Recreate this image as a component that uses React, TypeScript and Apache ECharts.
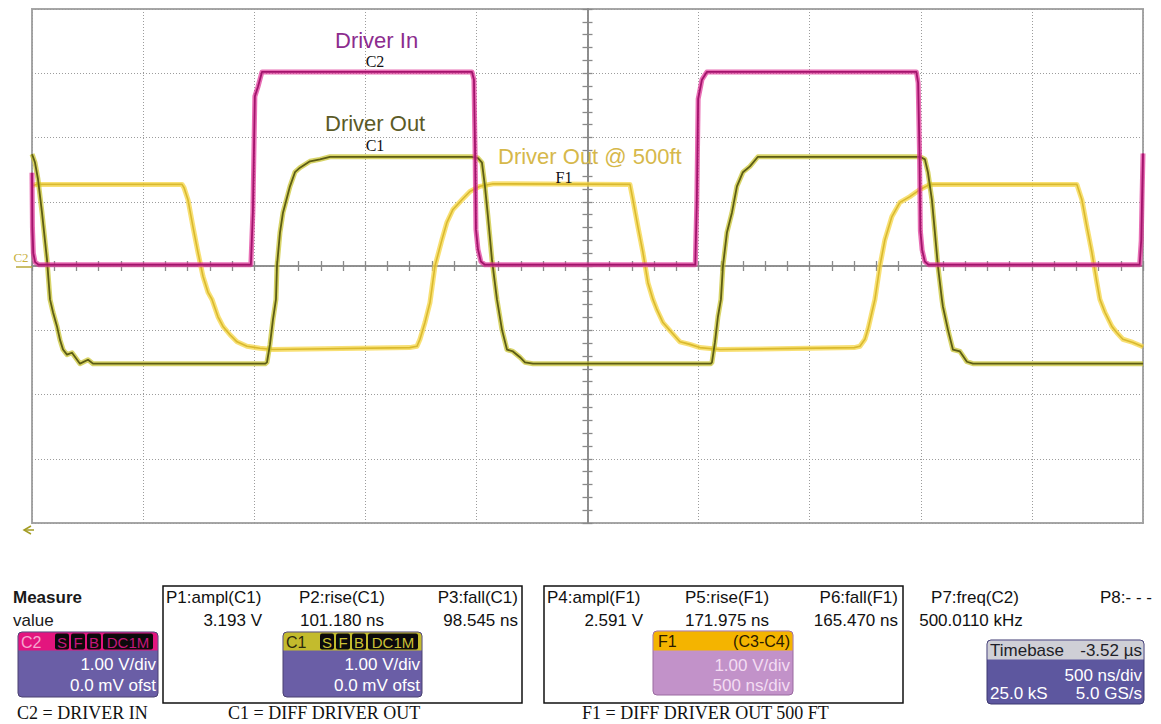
import React, { useEffect, useRef } from "react";
import * as echarts from "echarts";

// time in ns from the left edge of the screen (10 div x 500 ns), volts at 1 V/div
const SCREEN_NS = 5000;
const voltTicks = [-4, -3, -2, -1, 0, 1, 2, 3, 4];

// C2 = Driver In
const driverIn: [number, number][] = [
  [0, 1.45], [2, 0.6], [6, 0.2], [14, 0.06], [30, 0.02],
  [985, 0.02], [994, 0.83], [1003, 2.64], [1017, 2.79], [1035, 3.02],
  [1980, 3.02], [1989, 2.9], [1994, 1.81], [1998, 0.57], [2007, 0.26], [2020, 0.07], [2038, 0.02],
  [2985, 0.02], [2992, 1.0], [2998, 2.6], [3015, 2.9], [3037, 3.02],
  [3980, 3.02], [3988, 2.85], [3994, 1.8], [3998, 0.55], [4006, 0.25], [4018, 0.07], [4035, 0.02],
  [4985, 0.02], [4992, 0.4], [4996, 1.1], [5000, 1.75],
];

// C1 = Driver Out
const driverOut: [number, number][] = [
  [0, 1.74], [4.5, 1.7], [13.5, 1.61], [27, 1.35], [45, 0.83], [67.5, 0.1], [81, -0.52], [94.5, -0.72],
  [112.5, -0.94], [126, -1.15], [139.5, -1.3], [157.5, -1.38], [180, -1.35], [216, -1.52], [252, -1.46], [274.5, -1.52],
  [1050, -1.52], [1057.5, -1.5], [1071, -1.22], [1084.5, -0.83], [1098, -0.52], [1102.5, 0.0], [1116, 0.52],
  [1129.5, 0.83], [1161, 1.24], [1183.5, 1.46], [1206, 1.53], [1251, 1.63], [1296, 1.66], [1341, 1.7],
  [1980, 1.7], [2007, 1.68], [2025, 1.61], [2038.5, 1.24], [2052, 0.77], [2070, 0.1], [2092.5, -0.52], [2115, -0.99],
  [2137.5, -1.3], [2164.5, -1.33], [2196, -1.42], [2218.5, -1.5], [2254.5, -1.52],
  [3055, -1.52], [3060, -1.5], [3073.5, -1.19], [3087, -0.79], [3100.5, -0.52], [3109.5, 0.0], [3127.5, 0.52],
  [3150, 0.83], [3172.5, 1.24], [3199.5, 1.46], [3231, 1.55], [3267, 1.7],
  [3996, 1.7], [4018.5, 1.66], [4032, 1.46], [4050, 1.03], [4063.5, 0.52], [4077, 0.0], [4095, -0.52], [4099.5, -0.63],
  [4122, -0.99], [4144.5, -1.3], [4176, -1.33], [4207.5, -1.49], [4234.5, -1.52], [5000, -1.52],
];

// F1 = Driver Out @ 500ft
const driverOut500: [number, number][] = [
  [0, 1.25], [20, 1.27], [675, 1.27], [684, 1.22], [702, 1.03], [724.5, 0.61], [747, 0.21], [769.5, -0.16],
  [792, -0.41], [810, -0.52], [837, -0.79], [859.5, -0.94], [891, -1.07], [922.5, -1.18], [967.5, -1.25],
  [1026, -1.28], [1084.5, -1.3], [1700, -1.27],
  [1732.5, -1.25], [1746, -1.14], [1768.5, -0.88], [1791, -0.57], [1813.5, 0.0], [1845, 0.41], [1867.5, 0.68],
  [1894.5, 0.88], [1935, 1.03], [1971, 1.16], [2016, 1.24], [2074.5, 1.28], [2691, 1.27],
  [2704.5, 1.03], [2727, 0.61], [2749.5, 0.21], [2772, -0.26], [2794.5, -0.52], [2812.5, -0.68], [2839.5, -0.88],
  [2880, -1.04], [2916, -1.18], [2961, -1.22], [3006, -1.27], [3096, -1.3], [3700, -1.27],
  [3726, -1.25], [3748.5, -1.14], [3762, -0.99], [3780, -0.72], [3793.5, -0.52], [3816, 0.0], [3838.5, 0.41],
  [3870, 0.77], [3906, 0.99], [3951, 1.08], [3996, 1.19], [4041, 1.27], [4702.5, 1.27],
  [4725, 1.03], [4747.5, 0.61], [4770, 0.21], [4792.5, -0.26], [4806, -0.52], [4828.5, -0.72], [4860, -0.94],
  [4882.5, -1.04], [4909.5, -1.14], [4954.5, -1.19], [4995, -1.25], [5000, -1.26],
];

const measureNames = ["P1:ampl(C1)", "P2:rise(C1)", "P3:fall(C1)", "P4:ampl(F1)", "P5:rise(F1)", "P6:fall(F1)", "P7:freq(C2)", "P8:- - -"];
const measureValues = ["3.193 V", "101.180 ns", "98.545 ns", "2.591 V", "171.975 ns", "165.470 ns", "500.0110 kHz", ""];

const SANS = '"Liberation Sans", Arial, sans-serif';
const SERIF = '"Liberation Serif", "Times New Roman", serif';

function txt(text: string, x: number, y: number, fill: string, size: number, align = "left", family = SANS, weight = "normal", z = 20) {
  return {
    type: "text",
    x,
    y,
    z,
    silent: true,
    style: { text, fill, font: `${weight} ${size}px ${family}`, align, verticalAlign: "middle" },
  };
}
function rect(x: number, y: number, w: number, h: number, fill: string, r: any = 0, stroke?: string, lw = 1, z = 10) {
  return {
    type: "rect",
    z,
    silent: true,
    shape: { x, y, width: w, height: h, r },
    style: stroke ? { fill, stroke, lineWidth: lw } : { fill },
  };
}

function badges(x0: number, y: number, items: [string, number][], textColor: string) {
  const out: any[] = [];
  let x = x0;
  for (const [t, w] of items) {
    out.push(rect(x, y, w, 16, "#0c0a0c", 2, undefined, 1, 12));
    out.push(txt(t, x + w / 2, y + 8.5, textColor, 15, "center", SANS, "normal", 13));
    x += w + 2;
  }
  return out;
}

function channelBox(x: number, y: number, w: number, headFill: string, label: string, labelColor: string, badgeColor: string, line1: string, line2: string) {
  const h = 65;
  return [
    rect(x, y, w, h, "#6a5ea6", 4, "#4a4070", 1, 10),
    rect(x + 0.5, y + 0.5, w - 1, 18, headFill, [4, 4, 0, 0], undefined, 1, 11),
    txt(label, x + 3, y + 10, labelColor, 16, "left", SANS, "normal", 13),
    ...badges(x + 37, y + 1.5, [["S", 14], ["F", 14], ["B", 14], ["DC1M", 50]], badgeColor),
    txt(line1, x + w - 2, y + 32, "#ffffff", 17, "right"),
    txt(line2, x + w - 2, y + 53, "#ffffff", 17, "right"),
  ];
}

export default function App() {
  const ref = useRef<HTMLDivElement>(null);
  useEffect(() => {
    if (!ref.current) return;
    const chart = echarts.init(ref.current, null, { renderer: "svg" });
    const half = SCREEN_NS / 2;
    const shift = (d: [number, number][]) => d.map(([t, v]) => [t - half, v]);
    const axisColor = "#8a8a8a";
    const tickStyle = { color: "#8a8a8a", width: 1.3 };
    const xBase = {
      type: "value",
      min: -half,
      max: half,
      interval: 500,
      axisLine: { show: true, onZero: true, lineStyle: { color: axisColor, width: 1.6 } },
      axisTick: { show: true, length: 5, lineStyle: tickStyle },
      minorTick: { show: true, splitNumber: 5, length: 5, lineStyle: tickStyle },
      axisLabel: { show: false },
      minorSplitLine: { show: false },
    };
    const yBase = {
      type: "value",
      min: voltTicks[0],
      max: voltTicks[voltTicks.length - 1],
      interval: 1,
      axisLine: { show: true, onZero: true, lineStyle: { color: axisColor, width: 1.6 } },
      axisTick: { show: true, length: 5, lineStyle: tickStyle },
      minorTick: { show: true, splitNumber: 5, length: 5, lineStyle: tickStyle },
      axisLabel: { show: false },
      minorSplitLine: { show: false },
    };
    const grid = { type: [1, 2], color: "#9c9c9c", width: 1 };
    const trace = (name: string, data: [number, number][], glow: string, glowW: number, core: string, coreW: number, z: number) => [
      {
        type: "line",
        name: name + " glow",
        data: shift(data),
        showSymbol: false,
        symbol: "none",
        silent: true,
        z,
        lineStyle: { color: glow, width: glowW, join: "round" },
      },
      {
        type: "line",
        name,
        data: shift(data),
        showSymbol: false,
        symbol: "none",
        silent: true,
        z: z + 1,
        lineStyle: { color: core, width: coreW, join: "round" },
      },
    ];

    const bottom: any[] = [
      txt("Measure", 13, 597, "#1a1a1a", 17, "left", SANS, "bold"),
      txt("value", 13, 620, "#1a1a1a", 17),
      rect(163, 586, 359, 117, "#ffffff", 0, "#111111", 1.5, 5),
      rect(544, 586, 359, 117, "#ffffff", 0, "#111111", 1.5, 5),
      txt(measureNames[0], 166, 597, "#111", 17),
      txt(measureValues[0], 262, 620, "#111", 17, "right"),
      txt(measureNames[1], 342, 597, "#111", 17, "center"),
      txt(measureValues[1], 342, 620, "#111", 17, "center"),
      txt(measureNames[2], 518, 597, "#111", 17, "right"),
      txt(measureValues[2], 518, 620, "#111", 17, "right"),
      txt(measureNames[3], 547, 597, "#111", 17),
      txt(measureValues[3], 643, 620, "#111", 17, "right"),
      txt(measureNames[4], 727, 597, "#111", 17, "center"),
      txt(measureValues[4], 727, 620, "#111", 17, "center"),
      txt(measureNames[5], 898, 597, "#111", 17, "right"),
      txt(measureValues[5], 898, 620, "#111", 17, "right"),
      txt(measureNames[6], 975, 597, "#111", 17, "center"),
      txt(measureValues[6], 971, 620, "#111", 17, "center"),
      txt(measureNames[7], 1100, 597, "#111", 17),
      ...channelBox(18, 632, 140, "#e3157e", "C2", "#f7a6cf", "#c4177a", "1.00 V/div", "0.0 mV ofst"),
      ...channelBox(283, 632, 139, "#c3bb2d", "C1", "#2b2a0e", "#cbc236", "1.00 V/div", "0.0 mV ofst"),
      // F1 math box
      rect(653, 631, 140, 64, "#c292c9", 4, "#9a6aa0", 1, 10),
      rect(653.5, 631.5, 139, 19, "#f4b400", [4, 4, 0, 0], undefined, 1, 11),
      txt("F1", 658, 641, "#2a1a00", 16),
      txt("(C3-C4)", 790, 641, "#2a1a00", 16, "right"),
      txt("1.00 V/div", 790, 665, "#f3dcf2", 17, "right"),
      txt("500 ns/div", 790, 685, "#f3dcf2", 17, "right"),
      // Timebase box
      rect(987, 640, 157, 64, "#5d579f", 4, "#3d3870", 1, 10),
      rect(987.5, 640.5, 156, 19, "#cfcfd6", [4, 4, 0, 0], undefined, 1, 11),
      txt("Timebase", 990, 650, "#1e1e28", 17),
      txt("-3.52 µs", 1142, 650, "#1e1e28", 17, "right"),
      txt("500 ns/div", 1142, 675, "#ffffff", 17, "right"),
      txt("25.0 kS", 990, 693, "#ffffff", 17),
      txt("5.0 GS/s", 1142, 693, "#ffffff", 17, "right"),
      // captions
      txt("C2 = DRIVER IN", 17, 713, "#111", 18, "left", SERIF),
      txt("C1 = DIFF DRIVER OUT", 228, 713, "#111", 18, "left", SERIF),
      txt("F1 = DIFF DRIVER OUT 500 FT", 582, 713, "#111", 18, "left", SERIF),
    ];

    const annotations: any[] = [
      txt("Driver In", 335, 40, "#8c2c8e", 22),
      txt("C2", 375, 61, "#111", 16, "center", SERIF),
      txt("Driver Out", 325, 123, "#5b5a26", 22),
      txt("C1", 375, 145, "#111", 16, "center", SERIF),
      txt("Driver Out @ 500ft", 498, 156, "#d6b84a", 22),
      txt("F1", 564, 177, "#111", 16, "center", SERIF),
      txt("C2", 21, 257, "#c9b13e", 13, "center", SERIF),
      { type: "line", silent: true, z: 20, shape: { x1: 16, y1: 267, x2: 32, y2: 267 }, style: { stroke: "#b8a838", lineWidth: 1.5 } },
      { type: "polyline", silent: true, z: 20, shape: { points: [[31, 526], [24, 530], [31, 534]] }, style: { stroke: "#a39c24", lineWidth: 1.5, fill: "none" } },
      { type: "line", silent: true, z: 20, shape: { x1: 24, y1: 530, x2: 34, y2: 530 }, style: { stroke: "#a39c24", lineWidth: 1.5 } },
    ];

    chart.setOption({
      animation: false,
      backgroundColor: "#ffffff",
      grid: { left: 32, top: 9, width: 1111, height: 514, show: true, borderColor: "#a6a6a6", borderWidth: 2, backgroundColor: "transparent" },
      xAxis: [
        { ...xBase, position: "bottom", splitLine: { show: true, lineStyle: grid } },
        { ...xBase, position: "top", splitLine: { show: false } },
      ],
      yAxis: [
        { ...yBase, position: "left", splitLine: { show: true, lineStyle: grid } },
        { ...yBase, position: "right", splitLine: { show: false } },
      ],
      series: [
        ...trace("F1 Driver Out @ 500ft", driverOut500, "rgba(246,214,70,0.75)", 5, "#d9b92e", 1.6, 2),
        ...trace("C1 Driver Out", driverOut, "rgba(200,194,40,0.7)", 5, "#5c5c14", 1.8, 4),
        ...trace("C2 Driver In", driverIn, "rgba(222,50,150,0.7)", 5, "#a3136c", 1.8, 6),
      ],
      graphic: [...annotations, ...bottom],
    });
    return () => chart.dispose();
  }, []);
  return <div ref={ref} style={{ position: "fixed", left: 0, top: 0, width: 1161, height: 724, background: "#fff" }} />;
}
